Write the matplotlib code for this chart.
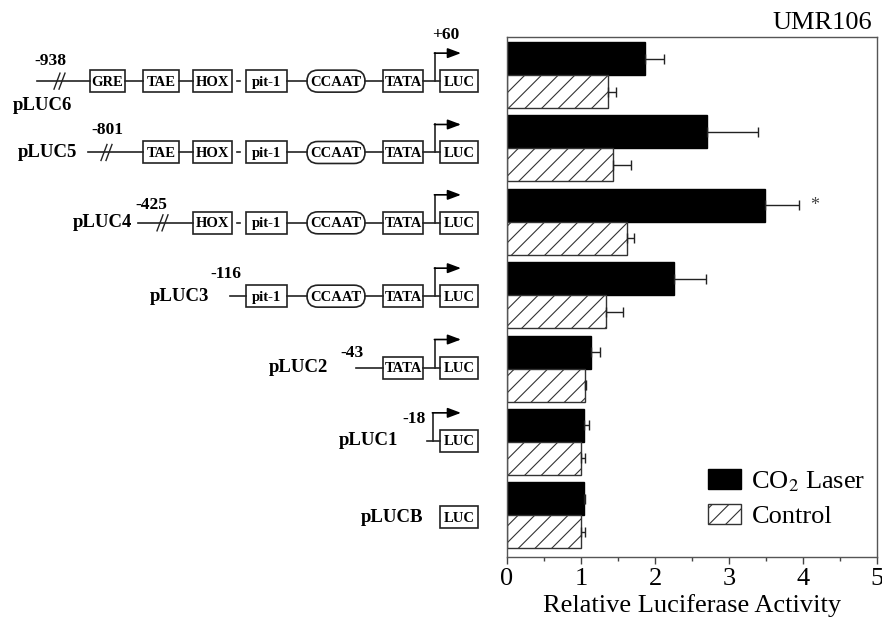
import numpy as np
import matplotlib
matplotlib.use('Agg')
import matplotlib.pyplot as plt
from matplotlib.patches import Rectangle, FancyBboxPatch
from matplotlib.ticker import MultipleLocator

plt.rcParams['font.family'] = 'Liberation Serif'
plt.rcParams['mathtext.fontset'] = 'stix'
plt.rcParams['hatch.linewidth'] = 0.8

# data
constructs = ['pLUC6', 'pLUC5', 'pLUC4', 'pLUC3', 'pLUC2', 'pLUC1', 'pLUCB']
start_site = ['-938', '-801', '-425', '-116', '-43', '-18', '']
elements = ['GRE', 'TAE', 'HOX', 'pit-1', 'CCAAT', 'TATA', 'LUC']
first_elem = ['GRE', 'TAE', 'HOX', 'pit-1', 'TATA', 'LUC', 'LUC']
laser = [1.86, 2.70, 3.48, 2.25, 1.14, 1.04, 1.04]
laser_err = [0.26, 0.69, 0.46, 0.44, 0.11, 0.07, 0.02]
control = [1.37, 1.43, 1.62, 1.34, 1.05, 1.00, 1.00]
control_err = [0.10, 0.24, 0.10, 0.23, 0.02, 0.06, 0.06]

# layout of the promoter drawings (pixels)
elem_x = {'GRE': (90, 125), 'TAE': (143, 179), 'HOX': (193, 232),
          'pit-1': (246, 287), 'CCAAT': (307, 365), 'TATA': (383, 423),
          'LUC': (440, 478)}
line_start = [37, 88, 138, 230, 356, 427, None]
break_x = [60, 107, 163, None, None, None, None]
label_pos = [(13, 24, 'left'), (77, 0, 'right'), (132, 0, 'right'), (209, 0, 'right'),
             (328, 0, 'right'), (398, 0, 'right'), (423, 0, 'right')]
num_pos = [(50, -20), (107, -22), (151, -18), (226, -22), (352, -15), (414, -22), (0, 0)]
arrow_x = [435, 435, 435, 435, 435, 433, None]
row_dy = [6, 4, 1, 1, -1, -1, 2]

fig = plt.figure(figsize=(8.82, 6.25), dpi=100)
ax = fig.add_axes([507/882, 1-557/625, 370/882, 520/625])

y = np.arange(len(constructs))
h = 0.45
ax.barh(y - h/2, laser, height=h, color='black', edgecolor='black', linewidth=1,
        xerr=[np.zeros(len(y)), laser_err], error_kw=dict(ecolor='#222222', elinewidth=1, capsize=3.6, capthick=1),
        label='CO$_2$ Laser')
ax.barh(y + h/2, control, height=h, color='white', edgecolor='#333333', linewidth=1, hatch='//',
        xerr=[np.zeros(len(y)), control_err], error_kw=dict(ecolor='#222222', elinewidth=1, capsize=3.6, capthick=1),
        label='Control')
ax.text(laser[2] + laser_err[2] + 0.15, 2 - h/2, '*', fontsize=13, va='center', ha='left', color='#444444')

ax.set_xlim(0, 5)
ax.set_ylim(6.57, -0.52)
ax.set_yticks([])
ax.xaxis.set_major_locator(MultipleLocator(1))
ax.xaxis.set_minor_locator(MultipleLocator(0.5))
ax.tick_params(axis='x', which='major', length=5, width=1, labelsize=19, pad=3, color='#444444')
ax.tick_params(axis='x', which='minor', length=3, width=1, color='#444444')
for s in ax.spines.values():
    s.set_color('#555555')
    s.set_linewidth(1)
ax.set_xlabel('Relative Luciferase Activity', fontsize=19, labelpad=3)
ax.legend(loc='lower right', bbox_to_anchor=(1.005, 0.03), frameon=False, fontsize=19,
          handlelength=1.25, handleheight=0.75, handletextpad=0.4, labelspacing=0.4, borderpad=0)
fig.text(872/882, 1-23/625, 'UMR106', ha='right', va='center', fontsize=19)

# promoter construct drawings
dax = fig.add_axes([0, 0, 500/882, 1])
dax.set_xlim(0, 500)
dax.set_ylim(625, 0)
dax.axis('off')

lw = 1.2
for i, name in enumerate(constructs):
    ry = 625 - ax.transData.transform((0, i))[1] + row_dy[i]
    elems = elements[elements.index(first_elem[i]):]
    # boxes
    for e in elems:
        l, r = elem_x[e]
        if e == 'CCAAT':
            p = FancyBboxPatch((l, ry - 11), r - l, 22, boxstyle='round,pad=0,rounding_size=11',
                               fill=False, lw=lw, edgecolor='#222222')
        else:
            p = Rectangle((l, ry - 11), r - l, 22, fill=False, lw=lw, edgecolor='#222222')
        dax.add_patch(p)
        dax.text((l + r) / 2, ry + 1, e, ha='center', va='center', fontsize=10.5, fontweight='bold')
    # connectors
    if line_start[i] is not None:
        dax.plot([line_start[i], elem_x[elems[0]][0]], [ry, ry], color='#222222', lw=lw)
    for a, b in zip(elems[:-1], elems[1:]):
        x0, x1 = elem_x[a][1], elem_x[b][0]
        if a == 'HOX':
            dax.plot([237, 240], [ry, ry], color='#222222', lw=lw)
        else:
            dax.plot([x0, x1], [ry, ry], color='#222222', lw=lw)
    # break marks
    if break_x[i] is not None:
        bx = break_x[i]
        for off in (-3, 2):
            dax.plot([bx + off - 3, bx + off + 3], [ry + 8, ry - 8], color='#222222', lw=1)
    # transcription start arrow
    if arrow_x[i] is not None:
        ax_ = arrow_x[i]
        dax.plot([ax_, ax_], [ry, ry - 28], color='#222222', lw=lw)
        dax.annotate('', xy=(461, ry - 28), xytext=(ax_ - 0.6, ry - 28),
                     arrowprops=dict(arrowstyle='-|>,head_length=0.8,head_width=0.3',
                                     color='black', lw=lw, shrinkA=0, shrinkB=0))
    # labels
    lx, ldy, lha = label_pos[i]
    dax.text(lx, ry + ldy, name, ha=lha, va='center', fontsize=13.5, fontweight='bold')
    if start_site[i]:
        nx, ndy = num_pos[i]
        dax.text(nx, ry + ndy, start_site[i], ha='center', va='center', fontsize=12.5, fontweight='bold')
    if i == 0:
        dax.text(446, ry - 46, '+60', ha='center', va='center', fontsize=12.5, fontweight='bold')

fig.savefig('out.png', dpi=100)
